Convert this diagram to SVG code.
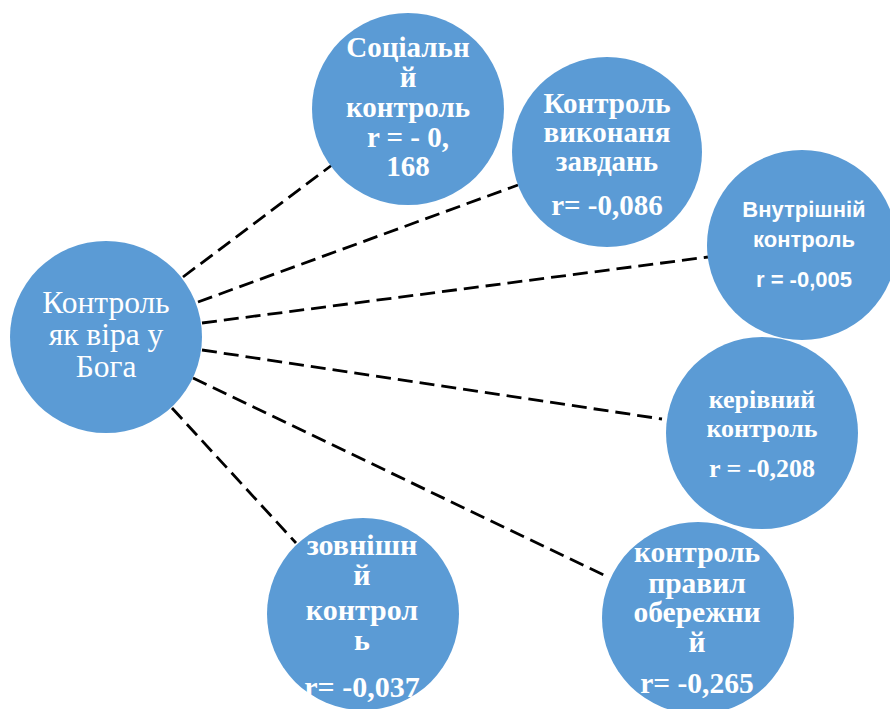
<svg xmlns="http://www.w3.org/2000/svg" width="890" height="709" viewBox="0 0 890 709">
<style>
.c{fill:#5B9BD5;}
.l{stroke:#000;stroke-width:2.8;stroke-dasharray:15 7;fill:none;}
.s{font-family:"Liberation Serif","Times New Roman",serif;fill:#fff;text-anchor:middle;}
.b{font-weight:bold;}
.k{font-family:"Liberation Sans",Arial,sans-serif;fill:#fff;text-anchor:middle;font-weight:bold;}
</style>
<rect width="890" height="709" fill="#fff"/>
<g id="connectors">
<line class="l" x1="183" y1="277" x2="332" y2="165"/>
<line class="l" x1="198" y1="302" x2="518" y2="185"/>
<line class="l" x1="202" y1="323" x2="708" y2="257"/>
<line class="l" x1="202" y1="350" x2="662" y2="419"/>
<line class="l" x1="193" y1="378" x2="608" y2="577"/>
<line class="l" x1="172" y1="408" x2="296" y2="543"/>
</g>
<g id="center">
<circle class="c" cx="106" cy="337" r="96"/>
<text class="s" font-size="31.5"><tspan x="106" y="313">Контроль</tspan><tspan x="106" y="345">як віра у</tspan><tspan x="106" y="377">Бога</tspan></text>
</g>
<g id="social">
<circle class="c" cx="408" cy="109" r="96"/>
<text class="s b" font-size="29"><tspan x="408" y="57">Соціальн</tspan><tspan x="408" y="87">й</tspan><tspan x="408" y="117">контроль</tspan><tspan x="408" y="147">r = - 0,</tspan><tspan x="408" y="176">168</tspan></text>
</g>
<g id="vykonannia">
<circle class="c" cx="607" cy="152" r="95"/>
<text class="s b" font-size="29"><tspan x="607" y="113">Контроль</tspan><tspan x="607" y="142">виконаня</tspan><tspan x="607" y="171">завдань</tspan><tspan x="607" y="215">r= -0,086</tspan></text>
</g>
<g id="vnutrishnii">
<circle class="c" cx="802" cy="245" r="95"/>
<text class="k" font-size="22"><tspan x="804" y="217">Внутрішній</tspan><tspan x="804" y="247">контроль</tspan><tspan x="804" y="287">r = -0,005</tspan></text>
</g>
<g id="kerivnyi">
<circle class="c" cx="762" cy="433" r="96"/>
<text class="s b" font-size="26"><tspan x="762" y="408">керівний</tspan><tspan x="762" y="437">контроль</tspan><tspan x="762" y="477">r = -0,208</tspan></text>
</g>
<g id="zovnishnii">
<circle class="c" cx="363" cy="614" r="96"/>
<text class="s b" font-size="30"><tspan x="362" y="555">зовнішн</tspan><tspan x="362" y="585">й</tspan><tspan x="362" y="620">контрол</tspan><tspan x="362" y="650">ь</tspan><tspan x="362" y="697">r= -0,037</tspan></text>
</g>
<g id="oberezhnyi">
<circle class="c" cx="698" cy="618" r="96"/>
<text class="s b" font-size="29.5"><tspan x="697" y="562">контроль</tspan><tspan x="697" y="593">правил</tspan><tspan x="697" y="622">обережни</tspan><tspan x="697" y="652">й</tspan><tspan x="697" y="693">r= -0,265</tspan></text>
</g>
</svg>
